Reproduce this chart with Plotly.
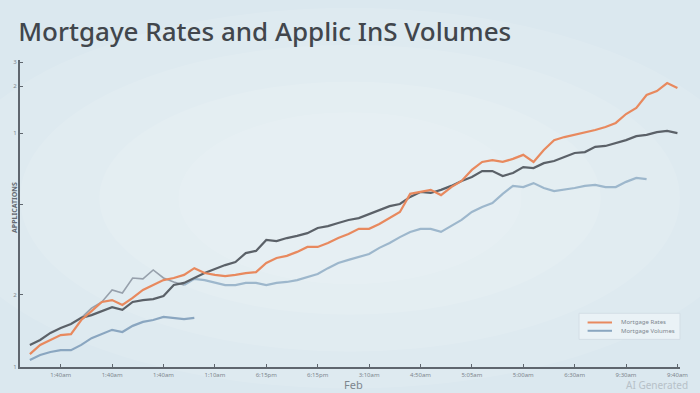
import plotly.graph_objects as go

# x grid (time index)
x_vals = list(range(4, 132, 2))  # 4..130

rates = [0.42, 0.72, 0.88, 1.04, 1.07, 1.53, 1.82, 2.12, 2.18, 2.02, 2.25, 2.51, 2.67, 2.83,
         2.90, 3.00, 3.22, 3.06, 3.00, 2.96, 3.00, 3.06, 3.09, 3.39, 3.55, 3.62, 3.75, 3.91,
         3.91, 4.04, 4.20, 4.33, 4.50, 4.50, 4.66, 4.85, 5.05, 5.64, 5.70, 5.77, 5.60, 5.86,
         6.06, 6.42, 6.68, 6.74, 6.68, 6.78, 6.91, 6.68, 7.07, 7.39, 7.49, 7.56, 7.65, 7.72,
         7.82, 7.95, 8.24, 8.44, 8.86, 8.99, 9.25, 9.09]

index_line = [0.72, 0.88, 1.11, 1.27, 1.40, 1.60, 1.69, 1.82, 1.95, 1.86, 2.12, 2.18, 2.21, 2.31,
              2.67, 2.74, 2.90, 3.06, 3.19, 3.32, 3.42, 3.71, 3.78, 4.14, 4.10, 4.20, 4.27, 4.36,
              4.53, 4.59, 4.69, 4.79, 4.85, 4.98, 5.11, 5.24, 5.31, 5.54, 5.70, 5.67, 5.77, 5.90,
              6.06, 6.19, 6.38, 6.38, 6.22, 6.32, 6.51, 6.48, 6.64, 6.71, 6.84, 6.97, 7.00, 7.17,
              7.20, 7.30, 7.39, 7.52, 7.56, 7.65, 7.69, 7.62]

volumes_early_x = list(range(4, 38, 2))
volumes_early = [0.23, 0.39, 0.49, 0.55, 0.55, 0.72, 0.94, 1.07, 1.21, 1.14, 1.34, 1.47, 1.53,
                 1.63, 1.60, 1.56, 1.60]

volumes_late_x = list(range(34, 126, 2))
volumes_late = [2.67, 2.87, 2.83, 2.74, 2.67, 2.67, 2.74, 2.74, 2.67, 2.74, 2.77, 2.83, 2.93,
                3.03, 3.22, 3.39, 3.49, 3.58, 3.68, 3.88, 4.04, 4.23, 4.40, 4.50, 4.50, 4.40,
                4.59, 4.79, 5.05, 5.21, 5.34, 5.64, 5.90, 5.86, 5.99, 5.83, 5.73, 5.77, 5.83,
                5.90, 5.93, 5.86, 5.86, 6.03, 6.16, 6.12]

faint_x = list(range(14, 36, 2))
faint = [1.60, 1.92, 2.12, 2.51, 2.41, 2.90, 2.87, 3.16, 2.90, 2.77, 2.67]

x_tickvals = list(range(10, 140, 10))
x_ticktext = ["1:40am", "1:40am", "1:40am", "1:10am", "6:15pm", "6:15pm", "3:10am",
              "4:50am", "5:05am", "5:00am", "6:30am", "9:30am", "9:40am"]
y_tickvals = [0, 2.35, 5.28, 7.62, 9.15, 9.93]
y_ticktext = ["1", "2", "", "1", "2", "3"]

legend_names = ["Mortgage Rates", "Mortgage Volumes"]

ORANGE = "#e8895e"
DARK = "#5b6168"
BLUE = "#9db7cc"
BLUE_LOW = "#8aa6c0"

fig = go.Figure()
fig.add_trace(go.Scatter(x=faint_x, y=faint, mode="lines", showlegend=False,
                         line=dict(color="rgba(125,135,148,0.75)", width=1.6)))
fig.add_trace(go.Scatter(x=volumes_late_x, y=volumes_late, mode="lines", showlegend=False,
                         line=dict(color=BLUE, width=2.2)))
fig.add_trace(go.Scatter(x=volumes_early_x, y=volumes_early, mode="lines", name=legend_names[1],
                         showlegend=False, line=dict(color=BLUE_LOW, width=2.2)))
fig.add_trace(go.Scatter(x=x_vals, y=index_line, mode="lines", showlegend=False,
                         line=dict(color=DARK, width=2.2)))
fig.add_trace(go.Scatter(x=x_vals, y=rates, mode="lines", name=legend_names[0],
                         showlegend=False, line=dict(color=ORANGE, width=2.2)))

# soft radial glow in the background
shapes = []
for rx, ry in [(0.62, 0.62), (0.5, 0.5), (0.38, 0.38), (0.26, 0.28)]:
    cx, cy = 0.5, 0.55
    shapes.append(dict(type="circle", xref="paper", yref="paper", layer="below",
                       x0=cx - rx, x1=cx + rx, y0=cy - ry, y1=cy + ry,
                       fillcolor="rgba(255,255,255,0.10)", line=dict(width=0)))

# compact legend (box + swatches)
lx0, lx1, ly0, ly1 = 0.847, 1.0, 0.09, 0.175
shapes.append(dict(type="rect", xref="paper", yref="paper", x0=lx0, x1=lx1, y0=ly0, y1=ly1,
                   fillcolor="rgba(236,243,247,0.85)", line=dict(color="#d3dee6", width=1)))
legend_colors = [ORANGE, BLUE_LOW]
legend_ys = [0.145, 0.118]
annotations = []
for name, col, yy in zip(legend_names, legend_colors, legend_ys):
    shapes.append(dict(type="line", xref="paper", yref="paper", x0=lx0 + 0.013, x1=lx0 + 0.05,
                       y0=yy, y1=yy, line=dict(color=col, width=2)))
    annotations.append(dict(text=name, x=lx0 + 0.06, y=yy, xref="paper", yref="paper",
                            xanchor="left", yanchor="middle", showarrow=False,
                            font=dict(size=6, color="#7d868e")))

annotations += [
    dict(text="<b>APPLICATIONS</b>", x=-0.018, y=0.52, xref="paper", yref="paper", textangle=-90,
         showarrow=False, font=dict(size=7, color="#646b73")),
    dict(text="Feb", x=0.505, y=-0.058, xref="paper", yref="paper", yanchor="middle",
         showarrow=False, font=dict(size=11, color="#7d868e")),
    dict(text="AI Generated", x=1.015, y=-0.06, xref="paper", yref="paper",
         xanchor="right", yanchor="middle", showarrow=False,
         font=dict(size=10, color="#b7c1c8")),
]

fig.update_layout(
    width=700, height=393,
    margin=dict(l=20, r=15, t=60, b=26),
    paper_bgcolor="#dbe8ef",
    plot_bgcolor="rgba(0,0,0,0)",
    font=dict(family="Noto Sans", color="#7d868e"),
    showlegend=False,
    title=dict(text="Mortgaye Rates and Applic InS Volumes", x=0.026, xanchor="left",
               y=0.918, yanchor="middle",
               font=dict(family="Noto Sans", size=26, color="#41464c", weight=500)),
    xaxis=dict(range=[2.08, 130.5], tickvals=x_tickvals, ticktext=x_ticktext,
               showgrid=False, zeroline=False, showline=True, linecolor="#5f666e", linewidth=2,
               ticks="inside", ticklen=3, tickcolor="#5f666e", ticklabelstandoff=1,
               tickfont=dict(size=6, color="#7d868e")),
    yaxis=dict(range=[0, 10], tickvals=y_tickvals, ticktext=y_ticktext,
               showgrid=False, zeroline=False, showline=True, linecolor="#5f666e", linewidth=2,
               ticks="inside", ticklen=3, tickcolor="#5f666e",
               tickfont=dict(size=6, color="#7d868e")),
    shapes=shapes,
    annotations=annotations,
)

fig.write_html("out.html")
